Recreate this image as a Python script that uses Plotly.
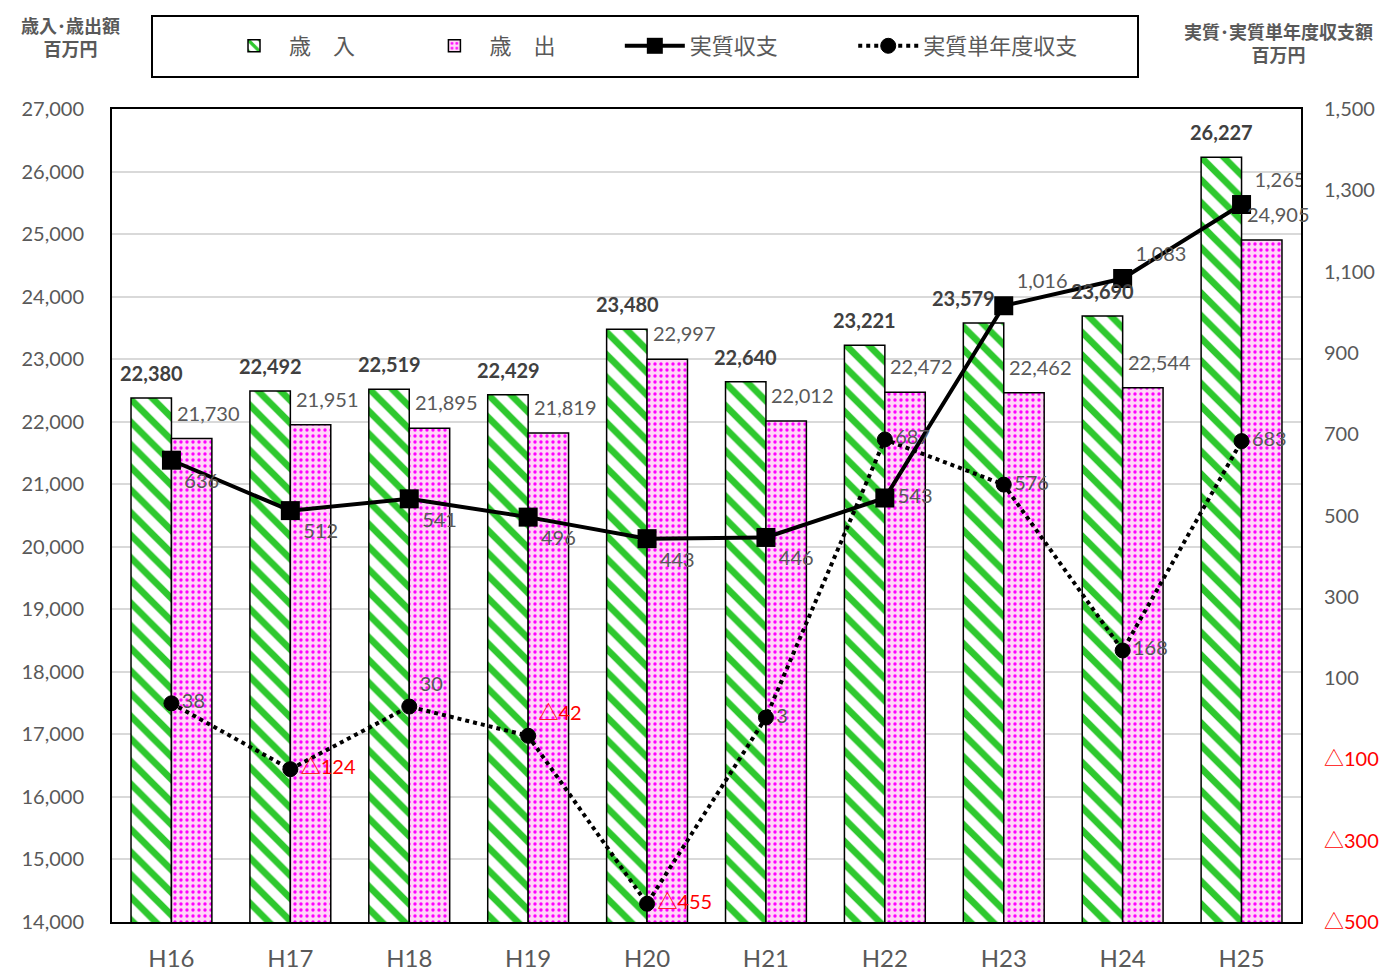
import plotly.graph_objects as go

years = ["H16", "H17", "H18", "H19", "H20", "H21", "H22", "H23", "H24", "H25"]
revenue = [22380, 22492, 22519, 22429, 23480, 22640, 23221, 23579, 23690, 26227]
expenditure = [21730, 21951, 21895, 21819, 22997, 22012, 22472, 22462, 22544, 24905]
real_balance = [636, 512, 541, 496, 443, 446, 543, 1016, 1083, 1265]
single_year = [38, -124, 30, -42, -455, 3, 687, 576, 168, 683]

FONT = "Lato, 'Noto Sans CJK JP', sans-serif"
JP = "'Noto Sans CJK JP', sans-serif"
GRAY = "#595959"
PAD = "\u3000\u3000\u2002\u2009"
PAD3 = "\u3000\u3000\u3000\u2009"

def fmt(v):
    return ("△" if v < 0 else "") + f"{abs(v):,}"

fig = go.Figure()
fig.add_trace(go.Bar(
    x=years, y=revenue, name="歳\u3000入" + PAD, offsetgroup="a",
    marker=dict(color="white", line=dict(color="black", width=1.5),
                pattern=dict(shape="\\", fgcolor="#2ec82e", bgcolor="white", fgopacity=1,
                             size=16, solidity=0.42)),
))
fig.add_trace(go.Bar(
    x=years, y=expenditure, name="歳\u3000出" + PAD, offsetgroup="b",
    marker=dict(color="#ffd6f7", line=dict(color="black", width=1.5),
                pattern=dict(shape=".", fgcolor="#ff00ff", bgcolor="#ffd6f7", fgopacity=1,
                             size=6, solidity=0.25)),
))

pos_real = ["top right" if v > 900 else ("middle right" if i == 6 else "bottom right")
            for i, v in enumerate(real_balance)]
fig.add_trace(go.Scatter(
    x=years, y=real_balance, name="実質収支" + PAD3, yaxis="y2", mode="lines+markers+text",
    line=dict(color="black", width=4), marker=dict(symbol="square", size=19, color="black"),
    text=[fmt(v) for v in real_balance], textposition=pos_real,
    textfont=dict(size=20, color=GRAY, family=FONT),
))
pos_single = ["top right" if i in (2, 3) else "middle right" for i in range(len(single_year))]
fig.add_trace(go.Scatter(
    x=years, y=single_year, name="実質単年度収支", yaxis="y2", mode="lines+markers+text",
    line=dict(color="black", width=4, dash="dot"),
    marker=dict(symbol="circle", size=15, color="black", line=dict(color="black", width=1)),
    text=[fmt(v) for v in single_year], textposition=pos_single,
    textfont=dict(size=20, color=["red" if v < 0 else GRAY for v in single_year], family=FONT),
))

annotations = []
rev_shift = {7: -20}
for i, (yr, v) in enumerate(zip(years, revenue)):
    annotations.append(dict(x=yr, y=v, xref="x", yref="y", text=f"<b>{v:,}</b>", showarrow=False,
                            xshift=-20 + rev_shift.get(i, 0), yshift=11, yanchor="bottom",
                            font=dict(size=20, color="#404040", family=FONT)))
for yr, v in zip(years, expenditure):
    annotations.append(dict(x=yr, y=v, xref="x", yref="y", text=f"{v:,}", showarrow=False,
                            xshift=37, yshift=12, yanchor="bottom",
                            font=dict(size=20, color=GRAY, family=FONT)))
annotations.append(dict(x=0.0, y=1.0, xref="paper", yref="paper", xanchor="center", yanchor="bottom",
                        xshift=-42, yshift=46, text="<b>歳入･歳出額</b><br><b>百万円</b>", showarrow=False,
                        font=dict(size=18, color=GRAY, family=JP)))
annotations.append(dict(x=1.0, y=1.0, xref="paper", yref="paper", xanchor="center", yanchor="bottom",
                        xshift=-23, yshift=40, text="<b>実質･実質単年度収支額</b><br><b>百万円</b>", showarrow=False,
                        font=dict(size=18, color=GRAY, family=JP)))

r_ticks = list(range(-500, 1501, 200))
r_text = [f"<span style='color:red'>{fmt(v)}</span>" if v < 0 else fmt(v) for v in r_ticks]

fig.update_layout(
    width=1391, height=971,
    margin=dict(l=112, r=90, t=109, b=49),
    paper_bgcolor="white", plot_bgcolor="white",
    barmode="group", bargap=0.32, bargroupgap=0,
    font=dict(family=FONT, size=20, color=GRAY),
    showlegend=True,
    legend=dict(orientation="h", x=0.09, y=1.0775, xanchor="left", yanchor="middle",
                borderwidth=0, itemwidth=60, bgcolor="rgba(0,0,0,0)",
                font=dict(size=22, family=JP, color=GRAY), traceorder="normal"),
    shapes=[dict(type="rect", xref="paper", yref="paper",
                 x0=(152 - 112) / 1189, x1=(1138 - 112) / 1189,
                 y0=(922 - 77) / 813, y1=(922 - 16) / 813,
                 line=dict(color="black", width=2), fillcolor="rgba(0,0,0,0)")],
    xaxis=dict(range=[-0.5, 9.5], automargin=False, showline=True, linecolor="black", linewidth=2,
               mirror=True, tickfont=dict(size=24, color=GRAY), ticks="", ticklabelstandoff=14),
    yaxis=dict(range=[14000, 27000], dtick=1000, tickformat=",", showgrid=True, gridcolor="#d9d9d9",
               gridwidth=1.5, showline=True, linecolor="black", linewidth=2, mirror=True, ticks="",
               ticklabelstandoff=22, zeroline=False, automargin=False),
    yaxis2=dict(range=[-500, 1500], overlaying="y", side="right", tickvals=r_ticks, ticktext=r_text,
                showgrid=False, showline=False, ticks="", ticklabelstandoff=22, zeroline=False,
                automargin=False),
    annotations=annotations,
)

fig.write_html("out.html")
